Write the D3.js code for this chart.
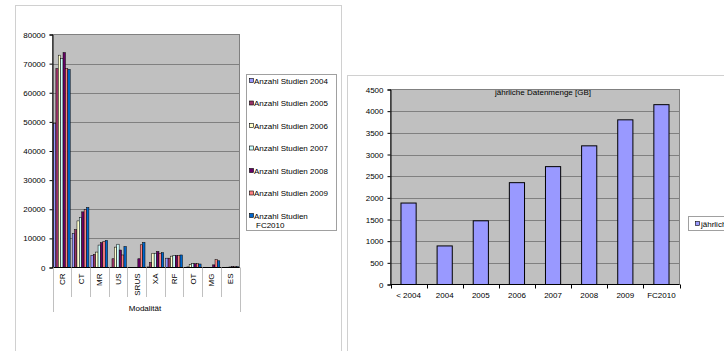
<!DOCTYPE html>
<html>
<head>
<meta charset="utf-8">
<script src="https://cdn.jsdelivr.net/npm/d3@7"></script>
<style>
  body { margin: 0; background: #fff; }
  svg { display: block; font-family: "Liberation Sans", Arial, sans-serif; }
</style>
</head>
<body>
<div id="chart"></div>
<script>
// data - left chart (Anzahl Studien je Modalität)
var modalities = ["CR", "CT", "MR", "US", "SRUS", "XA", "RF", "OT", "MG", "ES"];
var seriesNames = ["Anzahl Studien 2004", "Anzahl Studien 2005", "Anzahl Studien 2006",
    "Anzahl Studien 2007", "Anzahl Studien 2008", "Anzahl Studien 2009", "Anzahl Studien FC2010"];
var s2004 = [49400, 11700, 4200, 0, 0, 200, 3200, 0, 0, 0];
var s2005 = [68300, 13000, 4500, 3000, 0, 1700, 3200, 200, 0, 0];
var s2006 = [72900, 16000, 5300, 7000, 0, 4900, 3900, 1000, 0, 100];
var s2007 = [71700, 17200, 7700, 8000, 0, 4900, 4100, 1300, 0, 200];
var s2008 = [73800, 19100, 8500, 6000, 3000, 5500, 4100, 1300, 900, 300];
var s2009 = [68300, 19900, 9000, 4300, 7800, 4900, 4100, 1300, 2700, 300];
var s2010 = [68000, 20600, 9300, 7200, 8600, 5100, 4300, 1200, 2300, 300];
var leftTicks = [0, 10000, 20000, 30000, 40000, 50000, 60000, 70000, 80000];

// data - right chart (jährliche Datenmenge)
var years = ["< 2004", "2004", "2005", "2006", "2007", "2008", "2009", "FC2010"];
var datenmenge = [1880, 890, 1470, 2350, 2720, 3200, 3800, 4150];
var rightTicks = [0, 500, 1000, 1500, 2000, 2500, 3000, 3500, 4000, 4500];

var colors = ["#9999FF", "#993366", "#FFFFCC", "#CCFFFF", "#660066", "#FF8080", "#0066CC"];
var allSeries = [s2004, s2005, s2006, s2007, s2008, s2009, s2010];

var svg = d3.select("#chart").append("svg")
    .attr("width", 724)
    .attr("height", 351);

// chart frames
svg.append("rect")
    .attr("x", 15.5).attr("y", 5.5)
    .attr("width", 326).attr("height", 360)
    .style("fill", "none").style("stroke", "#d0d0d0");
svg.append("rect")
    .attr("x", 347.5).attr("y", 75.5)
    .attr("width", 400).attr("height", 300)
    .style("fill", "none").style("stroke", "#d0d0d0");

// ---------- left chart ----------
var L = { left: 52.5, right: 239.5, top: 34.5, bottom: 267.5 };

var x0 = d3.scaleBand().domain(modalities).range([L.left, L.right]);
var x1 = d3.scaleBand().domain(d3.range(7)).range([1, x0.step() - 1]);
var yL = d3.scaleLinear().domain([0, 80000]).range([L.bottom, L.top]);

var gL = svg.append("g");

gL.append("rect")
    .attr("x", L.left).attr("y", L.top)
    .attr("width", L.right - L.left).attr("height", L.bottom - L.top)
    .style("fill", "#c0c0c0").style("stroke", "#808080");

gL.selectAll(".gridL")
    .data(leftTicks.slice(1, -1))
    .enter()
    .append("line")
    .attr("x1", L.left).attr("x2", L.right)
    .attr("y1", function (d) { return Math.round(yL(d)) + 0.5; })
    .attr("y2", function (d) { return Math.round(yL(d)) + 0.5; })
    .style("stroke", "#808080");

// bars
allSeries.forEach(function (vals, si) {
    gL.selectAll(".barS" + si)
        .data(vals)
        .enter()
        .append("rect")
        .attr("x", function (d, i) { return x0(modalities[i]) + x1(si); })
        .attr("y", function (d) { return yL(d); })
        .attr("width", x1.bandwidth())
        .attr("height", function (d) { return L.bottom - yL(d); })
        .style("fill", colors[si])
        .style("stroke", "#000")
        .style("stroke-width", 0.5);
});

var yAxisL = gL.append("g")
    .attr("transform", "translate(" + L.left + ",0)")
    .call(d3.axisLeft(yL).tickValues(leftTicks).tickSize(3).tickPadding(4).tickFormat(d3.format("d")));
yAxisL.select(".domain").style("stroke", "#000");
yAxisL.selectAll("text").style("font-size", "8px").style("fill", "#000").style("font-family", "Liberation Sans, Arial");

gL.append("line")
    .attr("x1", L.left).attr("x2", L.right)
    .attr("y1", L.bottom).attr("y2", L.bottom)
    .style("stroke", "#000");

// category separators (two-level axis)
var seps = modalities.map(function (m) { return x0(m); }).concat([L.right]);
gL.selectAll(".sep")
    .data(seps)
    .enter()
    .append("line")
    .attr("x1", function (d) { return Math.round(d) + 0.5; })
    .attr("x2", function (d) { return Math.round(d) + 0.5; })
    .attr("y1", L.bottom)
    .attr("y2", function (d, i) { return (i === 0 || i === seps.length - 1) ? 312 : 297; })
    .style("stroke", "#c0c0c0");

gL.selectAll(".catLabel")
    .data(modalities)
    .enter()
    .append("text")
    .attr("transform", function (d) {
        return "translate(" + (x0(d) + x0.step() / 2 + 3) + ",273.5) rotate(-90)";
    })
    .attr("text-anchor", "end")
    .style("font-size", "8px")
    .text(function (d) { return d; });

gL.append("text")
    .attr("x", 145).attr("y", 311)
    .attr("text-anchor", "middle")
    .style("font-size", "8px")
    .text("Modalität");

// legend left
var legL = gL.append("g");
legL.append("rect")
    .attr("x", 246.5).attr("y", 74.5)
    .attr("width", 90).attr("height", 156)
    .style("fill", "#fff").style("stroke", "#a0a0a0");
seriesNames.forEach(function (name, i) {
    var yy = 81 + i * 22.5;
    legL.append("rect")
        .attr("x", 249.5).attr("y", yy - 2.5)
        .attr("width", 4).attr("height", 4)
        .style("fill", colors[i]).style("stroke", "#000").style("stroke-width", 0.6);
    if (i < 6) {
        legL.append("text")
            .attr("x", 254).attr("y", yy + 2.8)
            .style("font-size", "8px")
            .text(name);
    } else {
        legL.append("text")
            .attr("x", 254).attr("y", yy + 2.8)
            .style("font-size", "8px")
            .text("Anzahl Studien");
        legL.append("text")
            .attr("x", 256).attr("y", yy + 11.8)
            .style("font-size", "8px")
            .text("FC2010");
    }
});

// ---------- right chart ----------
var R = { left: 390.5, right: 679.5, top: 89.5, bottom: 284.5 };

var xR = d3.scaleBand().domain(years).range([R.left, R.right]).paddingInner(0.58).paddingOuter(0.29);
var yR = d3.scaleLinear().domain([0, 4500]).range([R.bottom, R.top]);

var gR = svg.append("g");

gR.append("rect")
    .attr("x", R.left).attr("y", R.top)
    .attr("width", R.right - R.left).attr("height", R.bottom - R.top)
    .style("fill", "#c0c0c0").style("stroke", "#808080");

gR.selectAll(".gridR")
    .data(rightTicks.slice(1, -1))
    .enter()
    .append("line")
    .attr("x1", R.left).attr("x2", R.right)
    .attr("y1", function (d) { return Math.round(yR(d)) + 0.5; })
    .attr("y2", function (d) { return Math.round(yR(d)) + 0.5; })
    .style("stroke", "#808080");

gR.selectAll(".barR")
    .data(datenmenge)
    .enter()
    .append("rect")
    .attr("x", function (d, i) { return xR(years[i]); })
    .attr("y", function (d) { return yR(d); })
    .attr("width", xR.bandwidth())
    .attr("height", function (d) { return R.bottom - yR(d); })
    .style("fill", "#9999FF")
    .style("stroke", "#000")
    .style("stroke-width", 1);

var yAxisR = gR.append("g")
    .attr("transform", "translate(" + R.left + ",0)")
    .call(d3.axisLeft(yR).tickValues(rightTicks).tickSize(3).tickPadding(4).tickFormat(d3.format("d")));
yAxisR.select(".domain").style("stroke", "#000");
yAxisR.selectAll("text").style("font-size", "8px").style("fill", "#000").style("font-family", "Liberation Sans, Arial");

gR.append("line")
    .attr("x1", R.left).attr("x2", R.right)
    .attr("y1", R.bottom).attr("y2", R.bottom)
    .style("stroke", "#000");

// tick marks between categories
var stepR = xR.step();
gR.selectAll(".tickR")
    .data(d3.range(years.length + 1))
    .enter()
    .append("line")
    .attr("x1", function (d) { return Math.round(R.left + d * stepR) + 0.5; })
    .attr("x2", function (d) { return Math.round(R.left + d * stepR) + 0.5; })
    .attr("y1", R.bottom).attr("y2", R.bottom + 4)
    .style("stroke", "#000");

gR.selectAll(".labR")
    .data(years)
    .enter()
    .append("text")
    .attr("x", function (d) { return xR(d) + xR.bandwidth() / 2; })
    .attr("y", 298)
    .attr("text-anchor", "middle")
    .style("font-size", "8px")
    .text(function (d) { return d; });

gR.append("text")
    .attr("x", 543).attr("y", 95)
    .attr("text-anchor", "middle")
    .style("font-size", "8px")
    .text("jährliche Datenmenge [GB]");

// legend right (runs past the page edge, as in the original)
gR.append("rect")
    .attr("x", 688.5).attr("y", 216.5)
    .attr("width", 110).attr("height", 14)
    .style("fill", "#fff").style("stroke", "#a0a0a0");
gR.append("rect")
    .attr("x", 695.5).attr("y", 221.5)
    .attr("width", 4).attr("height", 4)
    .style("fill", "#9999FF").style("stroke", "#000").style("stroke-width", 0.6);
gR.append("text")
    .attr("x", 701).attr("y", 226.5)
    .style("font-size", "8px")
    .text("jährliche Datenmenge [GB]");
</script>
</body>
</html>
